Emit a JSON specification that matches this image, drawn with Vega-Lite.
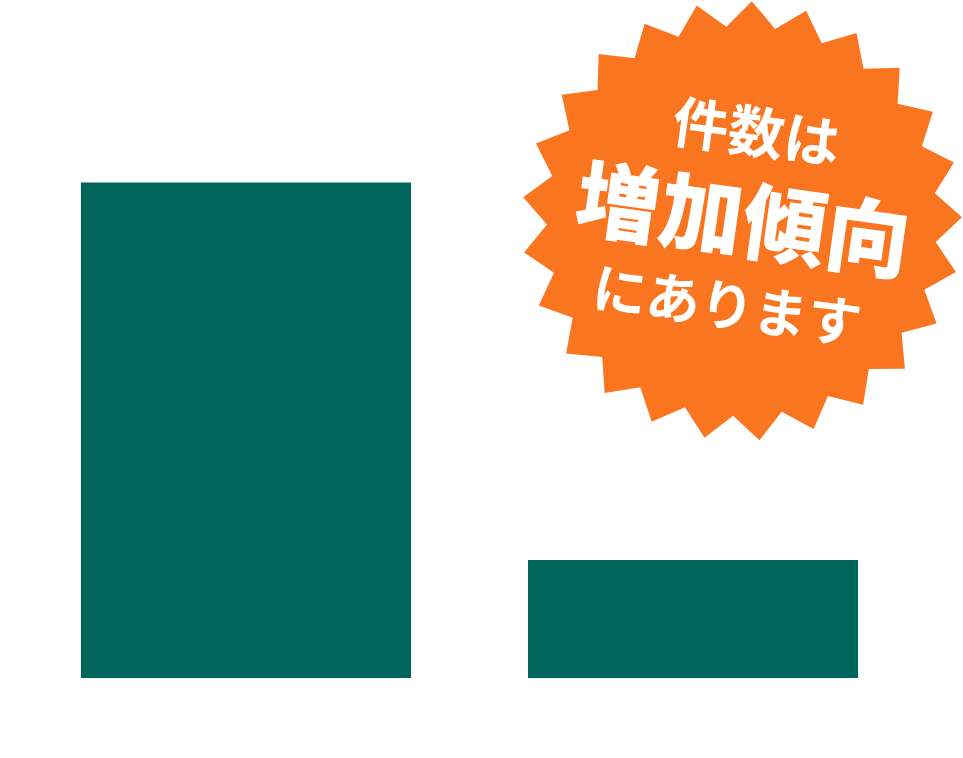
{
  "$schema": "https://vega.github.io/schema/vega-lite/v6.json",
  "width": 939,
  "height": 678,
  "padding": 0,
  "background": "#ffffff",
  "config": {"view": {"stroke": null}},
  "layer": [
    {
      "data": {"values": [
        {"category": "A", "value": 420},
        {"category": "B", "value": 100}
      ]},
      "mark": {"type": "bar", "color": "#00655A"},
      "encoding": {
        "x": {"field": "category", "type": "nominal", "axis": null, "sort": null,
              "scale": {"paddingInner": 0.2617, "paddingOuter": 0.181}},
        "y": {"field": "value", "type": "quantitative", "axis": null,
              "scale": {"domain": [0, 574.6], "nice": false, "zero": true}}
      }
    },
    {
      "data": {"values": [
        {"category": "B", "value": 387.3, "l1": "件数は", "l2": "増加傾向", "l3": "にあります"}
      ]},
      "layer": [
        {
          "mark": {
            "type": "point",
            "filled": true,
            "opacity": 1,
            "strokeWidth": 0,
            "color": "#F97520",
            "size": 193600,
            "shape": "M0.045,-0.999L0.151,-0.873L0.292,-0.956L0.363,-0.808L0.521,-0.854L0.553,-0.692L0.717,-0.697L0.708,-0.533L0.868,-0.497L0.818,-0.340L0.964,-0.266L0.877,-0.126L1.000,-0.017L0.881,0.096L0.973,0.232L0.829,0.312L0.885,0.466L0.726,0.508L0.741,0.672L0.577,0.673L0.551,0.835L0.391,0.795L0.326,0.946L0.181,0.867L0.080,0.997L-0.040,0.885L-0.170,0.985L-0.259,0.847L-0.410,0.912L-0.462,0.756L-0.624,0.782L-0.635,0.618L-0.799,0.602L-0.769,0.440L-0.923,0.384L-0.854,0.235L-0.990,0.143L-0.886,0.016L-0.994,-0.108L-0.862,-0.205L-0.936,-0.352L-0.784,-0.413L-0.819,-0.574L-0.656,-0.595L-0.651,-0.759L-0.488,-0.740L-0.442,-0.897L-0.288,-0.838L-0.205,-0.979L-0.071,-0.883Z"
          },
          "encoding": {
            "x": {"field": "category", "type": "nominal", "bandPosition": 0.648},
            "y": {"field": "value", "type": "quantitative"}
          }
        },
        {
          "mark": {"type": "text", "color": "#ffffff", "font": "Noto Sans CJK JP", "fontWeight": "bold",
                   "fontSize": 56, "angle": 8, "align": "center", "baseline": "middle", "dx": 2, "dy": -86},
          "encoding": {
            "x": {"field": "category", "type": "nominal", "bandPosition": 0.648},
            "y": {"field": "value", "type": "quantitative"},
            "text": {"field": "l1"}
          }
        },
        {
          "mark": {"type": "text", "color": "#ffffff", "font": "Noto Sans CJK JP", "fontWeight": 900,
                   "fontSize": 84, "angle": 8, "align": "center", "baseline": "middle", "dx": 1, "dy": 5},
          "encoding": {
            "x": {"field": "category", "type": "nominal", "bandPosition": 0.648},
            "y": {"field": "value", "type": "quantitative"},
            "text": {"field": "l2"}
          }
        },
        {
          "mark": {"type": "text", "color": "#ffffff", "font": "Noto Sans CJK JP", "fontWeight": "bold",
                   "fontSize": 54, "angle": 8, "align": "center", "baseline": "middle", "dx": -3, "dy": 90},
          "encoding": {
            "x": {"field": "category", "type": "nominal", "bandPosition": 0.648},
            "y": {"field": "value", "type": "quantitative"},
            "text": {"field": "l3"}
          }
        }
      ]
    }
  ]
}
